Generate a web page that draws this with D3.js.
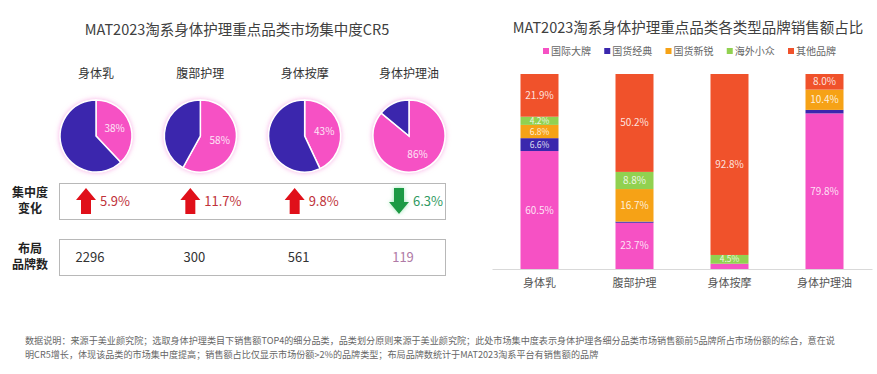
<!DOCTYPE html>
<html>
<head>
<meta charset="utf-8">
<script src="https://cdn.jsdelivr.net/npm/d3@7"></script>
<style>
  body { margin: 0; background: #fff; }
  svg text { font-family: "Noto Sans CJK SC", "Noto Sans", sans-serif; }
</style>
</head>
<body>
<script>
// ---- data ----
var categories = ["身体乳", "腹部护理", "身体按摩", "身体护理油"];
var cr5 = [38, 58, 43, 86];
var cr5Change = [5.9, 11.7, 9.8, -6.3];
var brandCounts = [2296, 300, 561, 119];

var brandTypes = ["国际大牌", "国货经典", "国货新锐", "海外小众", "其他品牌"];
var intlBig   = [60.5, 23.7, 2.7, 79.8];
var domClassic = [6.6, 0.6, 0, 1.8];
var domNew    = [6.8, 16.7, 0, 10.4];
var overseas  = [4.2, 8.8, 4.5, 0];
var others    = [21.9, 50.2, 92.8, 8.0];

var footLines = [
  "数据说明：来源于美业颜究院；选取身体护理类目下销售额TOP4的细分品类，品类划分原则来源于美业颜究院；此处市场集中度表示身体护理各细分品类市场销售额前5品牌所占市场份额的综合，意在说",
  "明CR5增长，体现该品类的市场集中度提高；销售额占比仅显示市场份额>2%的品牌类型；布局品牌数统计于MAT2023淘系平台有销售额的品牌"
];

var pink = "#f651c4", navy = "#3a27ad";
var typeColors = [pink, navy, "#f6a216", "#91d150", "#f0522b"];

var svg = d3.select("body").append("svg")
  .attr("width", 877)
  .attr("height", 374);

var defs = svg.append("defs");
var glow = defs.append("filter").attr("id", "glow")
  .attr("x", "-30%").attr("y", "-30%").attr("width", "160%").attr("height", "160%");
glow.append("feDropShadow")
  .attr("dx", 0).attr("dy", 0).attr("stdDeviation", 2.5)
  .attr("flood-color", "#f58ad8").attr("flood-opacity", 0.7);

var gg = defs.append("filter").attr("id", "greenGlow")
  .attr("x", "-50%").attr("y", "-50%").attr("width", "200%").attr("height", "200%");
gg.append("feDropShadow")
  .attr("dx", 0).attr("dy", 0).attr("stdDeviation", 2)
  .attr("flood-color", "#7fe0a0").attr("flood-opacity", 0.8);

// ---- left panel: CR5 pies ----
svg.append("text")
  .attr("x", 237).attr("y", 35)
  .attr("text-anchor", "middle")
  .attr("font-size", 14.5)
  .attr("fill", "#404040")
  .text("MAT2023淘系身体护理重点品类市场集中度CR5");

var px = d3.scalePoint().domain(categories).range([96, 409]);
var pieCy = 136, pieR = 36;

var pie = d3.pie().sort(null).startAngle(0).endAngle(2 * Math.PI);
var arc = d3.arc().innerRadius(0).outerRadius(pieR);
var labelArc = d3.arc().innerRadius(0).outerRadius(40);

categories.forEach(function(c, i) {
  var g = svg.append("g")
    .attr("transform", `translate(${px(c)}, ${pieCy})`);

  svg.append("text")
    .attr("x", px(c)).attr("y", 78)
    .attr("text-anchor", "middle")
    .attr("font-size", 12)
    .attr("fill", "#333")
    .text(c);

  var slices = pie([cr5[i], 100 - cr5[i]]);
  g.append("g").attr("filter", "url(#glow)")
    .selectAll("path")
    .data(slices)
    .enter()
    .append("path")
    .attr("d", arc)
    .attr("fill", (d, j) => j === 0 ? pink : navy)
    .attr("stroke", "#fff")
    .attr("stroke-width", 1.5);

  g.append("text")
    .attr("transform", `translate(${labelArc.centroid(slices[0])})`)
    .attr("text-anchor", "middle")
    .attr("dy", "0.35em")
    .attr("font-size", 10)
    .attr("fill", "#fde6f6")
    .text(cr5[i] + "%");
});

// row boxes
function rowBox(y0, lines) {
  svg.append("rect")
    .attr("x", 59.5).attr("y", y0 + 0.5)
    .attr("width", 386).attr("height", 36)
    .attr("fill", "none")
    .attr("stroke", "#b8b8b8");
  lines.forEach(function(t, k) {
    svg.append("text")
      .attr("x", 30).attr("y", y0 + 14 + k * 16)
      .attr("text-anchor", "middle")
      .attr("font-size", 12)
      .attr("font-weight", "bold")
      .attr("fill", "#222")
      .text(t);
  });
}
rowBox(183, ["集中度", "变化"]);
rowBox(239, ["布局", "品牌数"]);

// block arrow, 20 wide, 26 tall, centred at 0
function arrowPath(up) {
  var p = d3.path();
  var s = up ? 1 : -1;
  p.moveTo(0, -13 * s);
  p.lineTo(10, -1 * s);
  p.lineTo(5, -1 * s);
  p.lineTo(5, 13 * s);
  p.lineTo(-5, 13 * s);
  p.lineTo(-5, -1 * s);
  p.lineTo(-10, -1 * s);
  p.closePath();
  return p.toString();
}

categories.forEach(function(c, i) {
  var up = cr5Change[i] > 0;
  svg.append("path")
    .attr("d", arrowPath(up))
    .attr("transform", `translate(${px(c) - 10}, 201)`)
    .attr("fill", up ? "#e0101a" : "#1f9a45")
    .attr("filter", up ? null : "url(#greenGlow)");
  svg.append("text")
    .attr("x", px(c) + 4).attr("y", 206)
    .attr("font-size", 13)
    .attr("fill", up ? "#c0323a" : "#2f9a62")
    .text(Math.abs(cr5Change[i]).toFixed(1) + "%");

  svg.append("text")
    .attr("x", px(c) - 6).attr("y", 262)
    .attr("text-anchor", "middle")
    .attr("font-size", 13)
    .attr("fill", i === 3 ? "#b07aa6" : "#333")
    .text(brandCounts[i]);
});

// ---- right panel: stacked bars ----
svg.append("text")
  .attr("x", 688).attr("y", 33)
  .attr("text-anchor", "middle")
  .attr("font-size", 14.5)
  .attr("fill", "#404040")
  .text("MAT2023淘系身体护理重点品类各类型品牌销售额占比");

var table = categories.map(function(c, i) {
  return {
    cat: c,
    "国际大牌": intlBig[i],
    "国货经典": domClassic[i],
    "国货新锐": domNew[i],
    "海外小众": overseas[i],
    "其他品牌": others[i]
  };
});

var x = d3.scaleBand()
  .domain(categories)
  .range([492, 872])
  .paddingInner(0.6)
  .paddingOuter(0.3);

var y = d3.scaleLinear()
  .domain([0, 100])
  .range([269, 74]);

var color = d3.scaleOrdinal().domain(brandTypes).range(typeColors);

var series = d3.stack().keys(brandTypes)(table);

// legend
var lx = d3.scalePoint().domain(brandTypes).range([543, 788]);
var legend = svg.append("g");
brandTypes.forEach(function(t) {
  legend.append("rect")
    .attr("x", lx(t)).attr("y", 48)
    .attr("width", 6).attr("height", 6)
    .attr("fill", color(t));
  legend.append("text")
    .attr("x", lx(t) + 8).attr("y", 55)
    .attr("font-size", 10)
    .attr("fill", "#666")
    .text(t);
});

var layers = svg.append("g")
  .selectAll("g")
  .data(series)
  .enter()
  .append("g")
  .attr("fill", d => color(d.key));

layers.selectAll("rect")
  .data(d => d)
  .enter()
  .append("rect")
  .attr("x", d => x(d.data.cat))
  .attr("y", d => y(d[1]))
  .attr("width", x.bandwidth())
  .attr("height", d => y(d[0]) - y(d[1]));

// small segments get a smaller label so the 4.2 / 6.8 pair don't collide
layers.selectAll("text")
  .data(d => d.filter(v => v[1] - v[0] > 3))
  .enter()
  .append("text")
  .attr("x", d => x(d.data.cat) + x.bandwidth() / 2)
  .attr("y", d => y((d[0] + d[1]) / 2))
  .attr("dy", "0.35em")
  .attr("text-anchor", "middle")
  .attr("font-size", d => (d[1] - d[0]) < 7 ? 8.5 : 10)
  .attr("fill", "#fff")
  .attr("fill-opacity", 0.85)
  .text(d => (d[1] - d[0]).toFixed(1) + "%");

// axis
var xAxis = svg.append("g")
  .attr("transform", `translate(0, 269)`)
  .call(d3.axisBottom(x).tickSize(0).tickPadding(10));
xAxis.select(".domain").attr("stroke", "#d9d9d9");
xAxis.selectAll("text")
  .attr("font-size", 11)
  .attr("fill", "#555")
  .style("font-family", '"Noto Sans CJK SC", sans-serif');

// ---- footer ----
footLines.forEach(function(t, k) {
  svg.append("text")
    .attr("x", 25).attr("y", 344 + k * 13.5)
    .attr("font-size", 9.1)
    .attr("fill", "#666")
    .text(t);
});
</script>
</body>
</html>
